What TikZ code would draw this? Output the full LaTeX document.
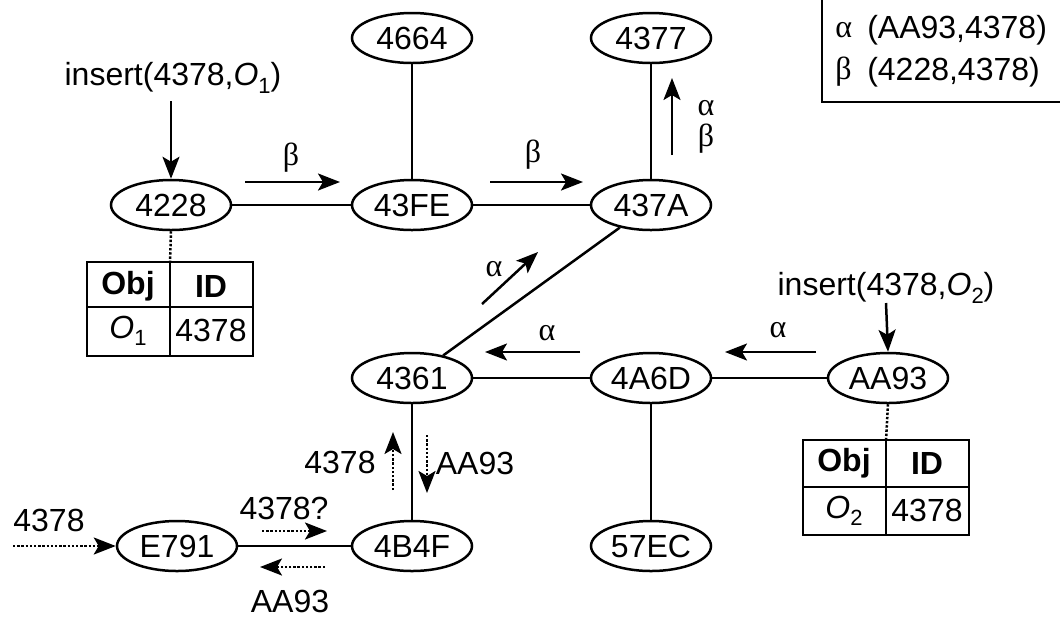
\documentclass[tikz,border=0pt]{standalone}
\usepackage{fontspec}
\setmainfont{Liberation Sans}
\newfontfamily\grk{Liberation Serif}
\usetikzlibrary{shapes.geometric,arrows.meta}
\newcommand{\sbs}[1]{\raisebox{-0.45ex}{\fontsize{11}{12}\selectfont #1}}
\begin{document}
\begin{tikzpicture}[x=0.5pt,y=-0.5pt,
  font=\fontsize{16}{18}\selectfont,
  line width=1.25pt,
  nd/.style={draw,ellipse,minimum width=60pt,minimum height=25pt,inner sep=0pt},
  arr/.style={-{Stealth[length=11pt,width=8.5pt,inset=2.5pt]}},
  darr/.style={arr,dash pattern=on 1.2pt off 0.9pt},
  lbl/.style={inner sep=0pt},
  bl/.style={inner sep=0pt,font=\fontsize{16}{18}\selectfont\bfseries},
  glbl/.style={inner sep=0pt,font=\fontsize{16}{18}\selectfont\grk}]
\useasboundingbox (0,0) rectangle (1060,617);
% nodes
\node[nd] (n4228) at (171,205) {4228};
\node[nd] (n43FE) at (412,205) {43FE};
\node[nd] (n437A) at (651,205) {437A};
\node[nd] (n4664) at (412,38) {4664};
\node[nd] (n4377) at (651,38) {4377};
\node[nd] (n4361) at (412,378) {4361};
\node[nd] (n4A6D) at (651,378) {4A6D};
\node[nd] (nAA93) at (888,378) {AA93};
\node[nd] (nE791) at (177,546) {E791};
\node[nd] (n4B4F) at (412,546) {4B4F};
\node[nd] (n57EC) at (651,546) {57EC};
% edges
\draw (n4228) -- (n43FE);
\draw (n43FE) -- (n437A);
\draw (n43FE) -- (n4664);
\draw (n437A) -- (n4377);
\draw (n437A) -- (n4361);
\draw (n4361) -- (n4A6D);
\draw (n4A6D) -- (nAA93);
\draw (n4A6D) -- (n57EC);
\draw (n4361) -- (n4B4F);
\draw (nE791) -- (n4B4F);
% tables
\draw (87,262) rectangle (253,356);
\draw (170,262) -- (170,356);
\draw (87,307) -- (253,307);
\node[bl] (t1a) at (128,286) {Obj};
\node[bl] (t1b) at (211,286) {ID};
\node[lbl] (t1c) at (128,331) {\textit{O}\sbs{1}};
\node[lbl] (t1d) at (211,330) {4378};
\draw[darr,-] (n4228.south) -- (170,262);
\draw (803,440) rectangle (969,535);
\draw (886,440) -- (886,535);
\draw (803,487) -- (969,487);
\node[bl] (t2a) at (844,463) {Obj};
\node[bl] (t2b) at (927,463) {ID};
\node[lbl] (t2c) at (844,511) {\textit{O}\sbs{2}};
\node[lbl] (t2d) at (927,510) {4378};
\draw[darr,-] (nAA93.south) -- (886,440);
% legend
\draw (822,0) -- (822,102) -- (1060,102);
\node[glbl,anchor=west] (lga) at (834,30) {α};
\node[lbl,anchor=west] (lgat) at (866,30) {(AA93,4378)};
\node[glbl,anchor=west] (lgb) at (834,72) {β};
\node[lbl,anchor=west] (lgbt) at (866,72) {(4228,4378)};
% insert arrows
\node[lbl] (ins1) at (173,78) {insert(4378,\textit{O}\sbs{1})};
\draw[arr] (171,101) -- (n4228.north);
\node[lbl] (ins2) at (886,288) {insert(4378,\textit{O}\sbs{2})};
\draw[arr] (886,303) -- (nAA93.north);
% beta arrows
\draw[arr] (245,182) -- (340,182);
\node[glbl] (b1) at (291,158) {β};
\draw[arr] (490,182) -- (583,182);
\node[glbl] (b2) at (533,155) {β};
\draw[arr] (672,155) -- (672,78);
\node[glbl] (ab1) at (706,108) {α};
\node[glbl] (ab2) at (706,139) {β};
% alpha arrows
\draw[arr] (482,304) -- (538,252);
\node[glbl] (a1) at (494,269) {α};
\draw[arr] (580,352) -- (485,352);
\node[glbl] (a2) at (547,333) {α};
\draw[arr] (816,352) -- (725,352);
\node[glbl] (a3) at (778,330) {α};
% dotted lookup arrows
\draw[darr] (393,490) -- (393,432);
\node[lbl] (l1) at (340,462) {4378};
\draw[darr] (427,435) -- (427,493);
\node[lbl] (l2) at (475,463) {AA93};
\draw[darr] (262,531) -- (327,531);
\node[lbl] (l3) at (284,508) {4378?};
\draw[darr] (325,567) -- (260,567);
\node[lbl] (l4) at (290,601) {AA93};
\draw[darr] (13,546) -- (nE791.west);
\node[lbl] (l5) at (49,520) {4378};
\end{tikzpicture}
\end{document}
